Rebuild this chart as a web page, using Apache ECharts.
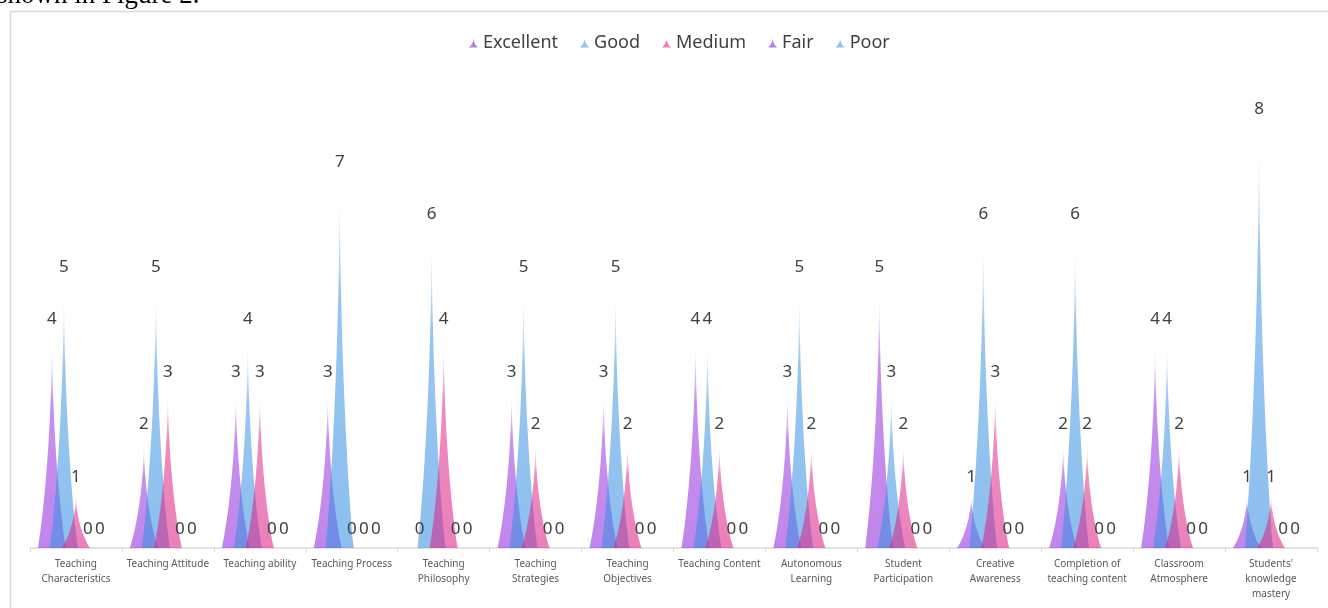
<!DOCTYPE html>
<html>
<head>
<meta charset="utf-8">
<title>Teaching evaluation ratings</title>
<script src="https://cdn.jsdelivr.net/npm/echarts@6/dist/echarts.min.js"></script>
<style>
  html, body { margin: 0; padding: 0; background: #ffffff; }
  #chart { width: 1328px; height: 608px; }
</style>
</head>
<body>
<div id="chart"></div>
<script>
// Evaluation items (x axis tick labels, wrapped as they are shown)
const categories = [
  'Teaching\nCharacteristics',
  'Teaching Attitude',
  'Teaching ability',
  'Teaching Process',
  'Teaching\nPhilosophy',
  'Teaching\nStrategies',
  'Teaching\nObjectives',
  'Teaching Content',
  'Autonomous\nLearning',
  'Student\nParticipation',
  'Creative\nAwareness',
  'Completion of\nteaching content',
  'Classroom\nAtmosphere',
  "Students'\nknowledge\nmastery"
];

// Number of ratings per grade for each item
const excellent = [4, 2, 3, 3, 0, 3, 3, 4, 3, 5, 1, 2, 4, 1];
const good      = [5, 5, 4, 7, 6, 5, 5, 4, 5, 3, 6, 6, 4, 8];
const medium    = [1, 3, 3, 0, 4, 2, 2, 2, 2, 2, 3, 2, 2, 1];
const fair      = [0, 0, 0, 0, 0, 0, 0, 0, 0, 0, 0, 0, 0, 0];
const poor      = [0, 0, 0, 0, 0, 0, 0, 0, 0, 0, 0, 0, 0, 0];

const seriesNames = ['Excellent', 'Good', 'Medium', 'Fair', 'Poor'];
const seriesData = [excellent, good, medium, fair, poor];

// Base RGB colours: purple, blue, pink, repeating
const baseRgb = ['147,45,220', '58,145,227', '220,35,136', '147,45,220', '58,145,227'];
const legendColors = ['#b77ee6', '#8fc0ee', '#ee7fbc', '#b77ee6', '#8fc0ee'];

// Spike with concave flanks and a needle tip
const spike = 'path://M0,10 L10,10 C7.5,8 5.1,4 5,0 C4.9,4 2.5,8 0,10 z';

function spikeFill(rgb) {
  return new echarts.graphic.LinearGradient(0, 0, 0, 1, [
    { offset: 0, color: 'rgba(' + rgb + ',0)' },
    { offset: 0.3, color: 'rgba(' + rgb + ',0.52)' },
    { offset: 1, color: 'rgba(' + rgb + ',0.58)' }
  ]);
}

const chart = echarts.init(document.getElementById('chart'), null, { renderer: 'canvas' });

const series = seriesNames.map(function (name, i) {
  return {
    name: name,
    type: 'pictorialBar',
    symbol: spike,
    barWidth: 28,
    barGap: '-57.14%',
    data: seriesData[i],
    itemStyle: { color: spikeFill(baseRgb[i]) },
    label: {
      show: true,
      position: 'top',
      distance: 10,
      fontFamily: 'Noto Sans',
      fontSize: 17,
      color: '#404040'
    },
    emphasis: { disabled: true }
  };
});

chart.setOption({
  animation: false,
  backgroundColor: '#ffffff',
  graphic: [
    {
      type: 'text',
      left: -3,
      top: -18,
      silent: true,
      style: {
        text: 'shown in Figure 2.',
        fontFamily: 'Liberation Serif',
        fontSize: 27,
        fill: '#000000'
      }
    },
    {
      type: 'rect',
      silent: true,
      shape: { x: 10.5, y: 11.5, width: 1400, height: 700 },
      style: { fill: 'none', stroke: '#d9d9d9', lineWidth: 1.5 }
    }
  ],
  legend: {
    top: 29,
    left: 464,
    itemWidth: 9,
    itemHeight: 12,
    itemGap: 22,
    icon: spike,
    textStyle: { fontFamily: 'Noto Sans', fontSize: 18, color: '#404040' },
    data: seriesNames.map(function (n, i) {
      return { name: n, itemStyle: { color: legendColors[i] } };
    })
  },
  grid: { left: 30, right: 11, top: 128, bottom: 60, containLabel: false },
  xAxis: {
    type: 'category',
    data: categories,
    axisLine: { lineStyle: { color: '#d9d9d9', width: 1.5 } },
    axisTick: { show: true, length: 4, lineStyle: { color: '#d9d9d9' } },
    axisLabel: {
      interval: 0,
      margin: 9,
      fontFamily: 'Noto Sans',
      fontSize: 10,
      lineHeight: 15,
      color: '#595959'
    }
  },
  yAxis: {
    type: 'value',
    min: 0,
    max: 8,
    show: false,
    splitLine: { show: false }
  },
  series: series
});
</script>
</body>
</html>
